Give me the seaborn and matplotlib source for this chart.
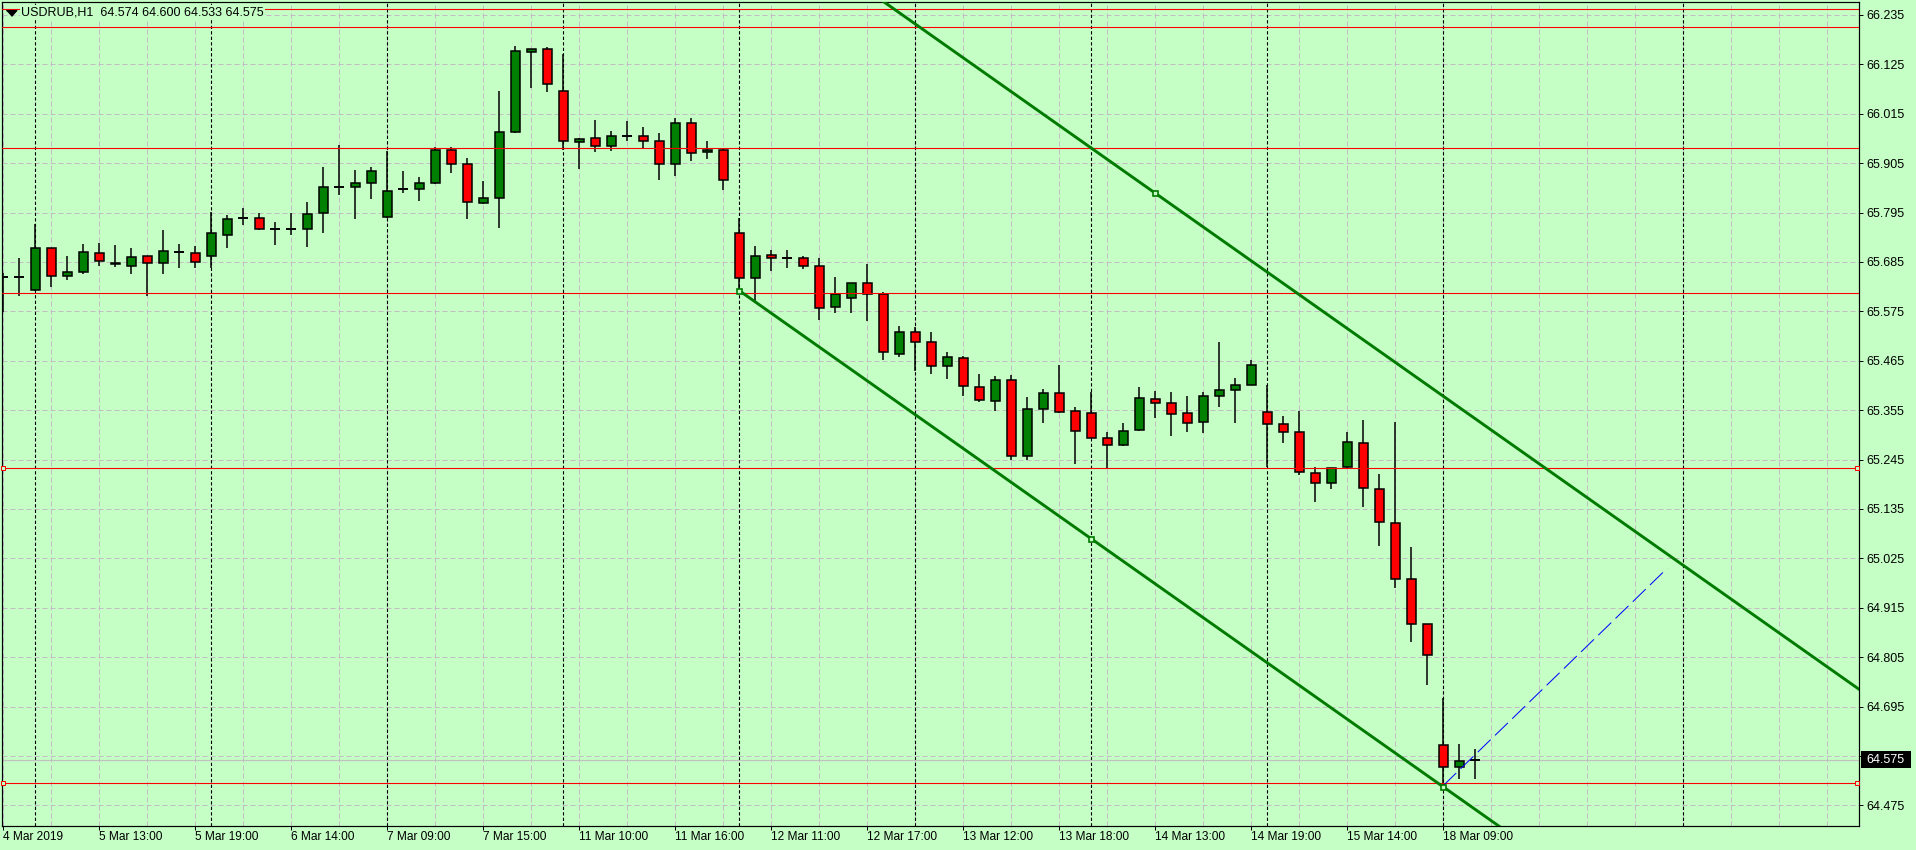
import numpy as np
import pandas as pd
import matplotlib
matplotlib.use("Agg")
import matplotlib.pyplot as plt
import matplotlib.transforms as mtransforms
from matplotlib.patches import Rectangle
import seaborn as sns

# ---------------- data ----------------
title_text = "USDRUB,H1  64.574 64.600 64.533 64.575"

opens = [65.652, 65.652, 65.622, 65.715, 65.653, 65.662, 65.704, 65.683, 65.677, 65.698,
         65.682, 65.708, 65.704, 65.698, 65.746, 65.782, 65.782, 65.758, 65.758, 65.758,
         65.793, 65.852, 65.851, 65.860, 65.786, 65.848, 65.847, 65.860, 65.934, 65.902,
         65.816, 65.827, 65.974, 66.153, 66.158, 66.065, 65.951, 65.960, 65.944, 65.965,
         65.965, 65.954, 65.904, 65.994, 65.929, 65.934, 65.749, 65.649, 65.700, 65.693,
         65.693, 65.677, 65.584, 65.604, 65.637, 65.613, 65.481, 65.528, 65.506, 65.453,
         65.470, 65.406, 65.375, 65.421, 65.252, 65.357, 65.392, 65.353, 65.348, 65.294,
         65.277, 65.310, 65.379, 65.370, 65.348, 65.328, 65.386, 65.399, 65.412, 65.350,
         65.323, 65.306, 65.214, 65.192, 65.228, 65.281, 65.179, 65.103, 64.980, 64.878,
         64.609, 64.560, 64.574]
highs = [65.661, 65.693, 65.769, 65.717, 65.698, 65.724, 65.727, 65.722, 65.716, 65.699,
         65.756, 65.724, 65.720, 65.796, 65.790, 65.804, 65.795, 65.773, 65.795, 65.818,
         65.896, 65.945, 65.890, 65.896, 65.933, 65.888, 65.874, 65.940, 65.940, 65.916,
         65.865, 66.065, 66.166, 66.160, 66.163, 66.148, 65.960, 66.001, 65.977, 65.999,
         65.985, 65.972, 66.005, 66.005, 65.954, 65.936, 65.782, 65.720, 65.711, 65.711,
         65.698, 65.693, 65.651, 65.638, 65.680, 65.617, 65.542, 65.541, 65.528, 65.484,
         65.475, 65.435, 65.430, 65.433, 65.384, 65.401, 65.455, 65.361, 65.396, 65.306,
         65.326, 65.406, 65.398, 65.395, 65.386, 65.395, 65.506, 65.426, 65.466, 65.410,
         65.343, 65.353, 65.228, 65.226, 65.306, 65.333, 65.212, 65.328, 65.050, 64.879,
         64.713, 64.612, 64.600]
lows = [65.574, 65.608, 65.620, 65.630, 65.645, 65.657, 65.677, 65.674, 65.658, 65.610,
        65.657, 65.672, 65.672, 65.671, 65.717, 65.767, 65.757, 65.723, 65.746, 65.719,
        65.750, 65.834, 65.781, 65.825, 65.783, 65.839, 65.821, 65.858, 65.884, 65.781,
        65.814, 65.761, 65.972, 66.073, 66.064, 65.934, 65.893, 65.930, 65.933, 65.955,
        65.939, 65.868, 65.877, 65.910, 65.915, 65.846, 65.621, 65.596, 65.665, 65.672,
        65.669, 65.556, 65.571, 65.571, 65.554, 65.466, 65.473, 65.441, 65.436, 65.425,
        65.387, 65.372, 65.354, 65.243, 65.243, 65.327, 65.349, 65.235, 65.293, 65.226,
        65.276, 65.309, 65.337, 65.298, 65.307, 65.303, 65.363, 65.327, 65.412, 65.228,
        65.282, 65.210, 65.150, 65.180, 65.223, 65.140, 65.053, 64.960, 64.838, 64.744,
        64.516, 64.533, 64.533]
closes = [65.652, 65.652, 65.715, 65.653, 65.663, 65.706, 65.686, 65.680, 65.695, 65.682,
          65.709, 65.708, 65.684, 65.749, 65.780, 65.782, 65.758, 65.758, 65.758, 65.791,
          65.851, 65.852, 65.860, 65.887, 65.844, 65.848, 65.860, 65.934, 65.902, 65.818,
          65.827, 65.974, 66.154, 66.159, 66.081, 65.954, 65.959, 65.944, 65.965, 65.966,
          65.954, 65.904, 65.994, 65.927, 65.934, 65.867, 65.649, 65.698, 65.693, 65.693,
          65.677, 65.582, 65.613, 65.637, 65.613, 65.484, 65.528, 65.506, 65.453, 65.473,
          65.408, 65.377, 65.421, 65.252, 65.357, 65.392, 65.351, 65.309, 65.294, 65.277,
          65.308, 65.381, 65.370, 65.346, 65.326, 65.386, 65.399, 65.412, 65.455, 65.323,
          65.306, 65.217, 65.192, 65.225, 65.283, 65.181, 65.105, 64.980, 64.878, 64.809,
          64.560, 64.574, 64.575]

xtick_idx = [0, 6, 12, 18, 24, 30, 36, 42, 48, 54, 60, 66, 72, 78, 84, 90]
xtick_labels = ["4 Mar 2019", "5 Mar 13:00", "5 Mar 19:00", "6 Mar 14:00", "7 Mar 09:00",
                "7 Mar 15:00", "11 Mar 10:00", "11 Mar 16:00", "12 Mar 11:00", "12 Mar 17:00",
                "13 Mar 12:00", "13 Mar 18:00", "14 Mar 13:00", "14 Mar 19:00",
                "15 Mar 14:00", "18 Mar 09:00"]
ytick_vals = [66.235, 66.125, 66.015, 65.905, 65.795, 65.685, 65.575, 65.465, 65.355,
              65.245, 65.135, 65.025, 64.915, 64.805, 64.695, 64.585, 64.475]
ytick_labels = ["66.235", "66.125", "66.015", "65.905", "65.795", "65.685", "65.575",
                "65.465", "65.355", "65.245", "65.135", "65.025", "64.915", "64.805",
                "64.695", "64.585", "64.475"]
vgrid_idx = [0, 3, 6, 9, 12, 15, 18, 21, 24, 27, 30, 33, 36, 39, 42, 45, 48, 51, 54, 57,
             60, 63, 66, 69, 72, 75, 78, 81, 84, 87, 90, 93, 96, 99, 102, 105, 108, 111, 114]
separator_idx = [2, 13, 24, 35, 46, 57, 68, 79, 90, 105]
red_levels = [66.248, 66.207, 65.938, 65.615, 65.226, 64.525]
red_marked_levels = [65.226, 64.525]
channel_base_x = [46, 90]
channel_base_y = [65.621, 64.516]
channel_third_x = 72
channel_third_y = 65.838
blue_x = [90, 104]
blue_y = [64.519, 65.003]
bid_price = 64.575
bid_label = "64.575"

# ---------------- style ----------------
BG = "#C6FFC6"
GRID = "#C4BCC4"
BULL = "#008000"
BEAR = "#FF0000"
CHAN = "#007A00"
PX = 0.72  # one pixel in points at dpi 100

sns.set_theme(style="white", rc={"axes.facecolor": BG, "figure.facecolor": BG})
plt.rcParams["font.family"] = ["Liberation Sans", "DejaVu Sans"]

W, H = 1916, 850
fig = plt.figure(figsize=(W / 100, H / 100), dpi=100, facecolor=BG)
ax_l, ax_r, ax_t, ax_b = 2.0, 1859.0, 2.3, 825.7
ax = fig.add_axes([ax_l / W, 1 - ax_b / H, (ax_r - ax_l) / W, (ax_b - ax_t) / H])
ax.set_facecolor(BG)

# pixel <-> data mapping of the reference chart
def idx_at(px):
    return (px - 3.3) / 16.0

def price_at(py):
    return 66.2682 - 0.0022267 * py

x0, x1 = idx_at(ax_l), idx_at(ax_r)
y0, y1 = price_at(ax_b), price_at(ax_t)
ax.set_xlim(x0, x1)
ax.set_ylim(y0, y1)

df = pd.DataFrame({"o": opens, "h": highs, "l": lows, "c": closes})
df["x"] = np.arange(len(df))

# grid
ax.hlines(ytick_vals, x0, x1, colors=GRID, lw=PX, linestyles=(0, (5, 3)), zorder=1)
ax.vlines(vgrid_idx, y0, y1, colors=GRID, lw=PX, linestyles=(0, (5, 3)), zorder=1)
# period separators
ax.vlines(separator_idx, y0, y1, colors="black", lw=PX * 1.1, linestyles=(0, (3, 2)), zorder=1.5)

# bid line
ax.axhline(bid_price, color="#C0C0C0", lw=PX * 1.2, zorder=1.6)

# candles
ax.vlines(df["x"], df["l"], df["h"], colors="black", lw=1.1, zorder=3)
body = (df["c"] - df["o"]).abs()
is_doji = body <= 0.0015
bars = df[~is_doji]
colors = np.where(bars["c"] >= bars["o"], BULL, BEAR)
ax.bar(bars["x"], (bars["c"] - bars["o"]).abs(), bottom=np.minimum(bars["o"], bars["c"]),
       width=0.55, color=colors, edgecolor="black", linewidth=1.1, zorder=3.2)
dj = df[is_doji]
ax.hlines(dj["c"], dj["x"] - 0.32, dj["x"] + 0.32, colors="black", lw=1.4, zorder=3.2)

# red horizontal levels
for lv in red_levels:
    ax.axhline(lv, color="#FF0000", lw=PX * 1.1, zorder=4)
for lv in red_marked_levels:
    ax.plot([x0 + 0.09, x1 - 0.14], [lv, lv], ls="none", marker="s", ms=3.0,
            mfc=BG, mec="#FF0000", mew=PX, zorder=4.1, clip_on=False)

# equidistant channel
slope = (channel_base_y[1] - channel_base_y[0]) / (channel_base_x[1] - channel_base_x[0])
xe = x1 + 2
lower = pd.DataFrame({"x": [channel_base_x[0], xe],
                      "y": [channel_base_y[0], channel_base_y[0] + slope * (xe - channel_base_x[0])]})
upper = pd.DataFrame({"x": [channel_base_x[0], xe],
                      "y": [channel_third_y + slope * (channel_base_x[0] - channel_third_x),
                            channel_third_y + slope * (xe - channel_third_x)]})
sns.lineplot(data=lower, x="x", y="y", ax=ax, color=CHAN, lw=2.1, zorder=5)
sns.lineplot(data=upper, x="x", y="y", ax=ax, color=CHAN, lw=2.1, zorder=5)
mid_x = (channel_base_x[0] + channel_base_x[1]) / 2
mid_y = (channel_base_y[0] + channel_base_y[1]) / 2
ax.plot([channel_base_x[0], mid_x, channel_base_x[1], channel_third_x],
        [channel_base_y[0], mid_y, channel_base_y[1], channel_third_y],
        ls="none", marker="s", ms=3.6, mfc=BG, mec=CHAN, mew=1.2, zorder=5.2)

# blue dashed trend line
ax.plot(blue_x, blue_y, color="#0000FF", lw=PX, dashes=(18, 6), zorder=5.1)

# axes / ticks
ax.set_xlabel("")
ax.set_ylabel("")
for s in ax.spines.values():
    s.set_color("black")
    s.set_linewidth(PX * 1.2)
    s.set_visible(True)
ax.yaxis.tick_right()
ax.set_yticks(ytick_vals, ytick_labels)
ax.tick_params(axis="y", which="both", direction="out", length=4 * PX, width=PX,
               pad=3 * PX, labelsize=9, colors="black", right=True, left=False)
ax.set_xticks(xtick_idx, xtick_labels)
ax.tick_params(axis="x", which="both", direction="out", length=4 * PX, width=PX,
               pad=1.2, labelsize=8.6, colors="black", bottom=True)
for lab in ax.get_xticklabels():
    lab.set_ha("left")
ax.grid(False)

# bid price box on the price scale (covers the 64.585 label like the terminal does)
tr = mtransforms.blended_transform_factory(ax.transAxes, ax.transData)
box_x = (1860.7 - ax_l) / (ax_r - ax_l)
box_w = 50.0 / (ax_r - ax_l)
pxp = 0.0022267
ax.add_patch(Rectangle((box_x, bid_price - 7.8 * pxp), box_w, 17.0 * pxp, transform=tr,
                       facecolor="black", edgecolor="none", clip_on=False, zorder=20))
ax.text((1866.0 - ax_l) / (ax_r - ax_l), bid_price, bid_label, transform=tr,
        color="white", fontsize=9, ha="left", va="center", zorder=21, clip_on=False)

# header
fig.text(21.3 / W, 1 - 12.6 / H, title_text, fontsize=9, color="black", ha="left",
         va="center", zorder=30,
         bbox=dict(facecolor=BG, edgecolor="none", pad=1.0))
tri = [(-1.0, 0.55), (1.0, 0.55), (0.0, -0.55)]
fig.lines.append(matplotlib.lines.Line2D([11.0 / W], [1 - 12.8 / H], marker=tri, ms=7.5,
                                         color="black", ls="none", transform=fig.transFigure))

fig.savefig("out.png", dpi=100, facecolor=BG)
